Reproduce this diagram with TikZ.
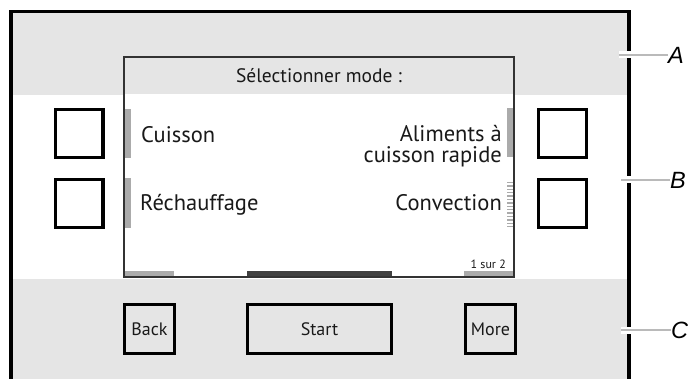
\documentclass[tikz,border=0pt]{standalone}
\usepackage{fontspec}
\setmainfont{PT Sans}
\newfontfamily\calloutfont{Liberation Sans}
\tikzset{
  band/.style={fill=black!10, draw=none},
  softkey/.style={draw=black, line width=3.3pt, inner sep=0pt},
  indicator/.style={fill=black!33, draw=none},
  leader/.style={line width=2pt, color=black!27},
  halo/.style={line width=7pt, color=white},
  screentext/.style={inner sep=0pt, text=black!90, font=\fontsize{22.5}{20.7}\selectfont},
  keytext/.style={text=black!90, font=\fontsize{18}{18}\selectfont},
  callout/.style={inner sep=0pt, font=\calloutfont\itshape\fontsize{23.5}{23.5}\selectfont},
}

\begin{document}
\begin{tikzpicture}[x=1pt, y=-1pt]
			%%%%% START %%%%%
			\useasboundingbox (0, 0) rectangle (688, 379);
			
			\draw[band] (11, 11) rectangle (629, 95);
			\draw[band] (11, 279) rectangle (629, 379);
			
			% screen
			\draw[fill=white, draw=none] (123, 94) rectangle (515, 278);
			\draw[indicator] (125, 271) rectangle (174, 277);
			\draw[fill=black!75, draw=none] (247, 271) rectangle (392, 277);
			\draw[indicator] (464, 271) rectangle (513, 277);
			\draw[indicator] (125, 109) rectangle (131, 158);
			\draw[indicator] (125, 178) rectangle (131, 228);
			\draw[indicator] (507, 108) rectangle (513, 157);
			\foreach \k in {0,...,13}
				\draw[line width=1.5pt, color=black!33] (507, {182.5+\k*3.4}) -- (513, {182.5+\k*3.4});
			\draw[line width=2pt, color=black!80] (124, 57) rectangle (514, 277);
			
			\node[screentext, anchor=base, font=\fontsize{19.5}{19.5}\selectfont] (title) at (319, 83) {Sélectionner mode :};
			\node[screentext, anchor=base west] (cuisson) at (141, 143) {Cuisson};
			\node[screentext, anchor=base west] (rechauffage) at (140, 211) {Réchauffage};
			\node[screentext, anchor=base east, align=right] (aliments) at (502, 162.7) {Aliments à\\cuisson rapide};
			\node[screentext, anchor=base east] (convection) at (502, 211) {Convection};
			\node[screentext, anchor=base east, font=\fontsize{12}{12}\selectfont] (page) at (506, 269) {1 sur 2};
			
			% side keys
			\node[softkey, minimum size=47.7pt] (keyL1) at (79, 133.5) {};
			\node[softkey, minimum size=47.7pt] (keyL2) at (79, 203.5) {};
			\node[softkey, minimum size=47.7pt] (keyR1) at (562.5, 133.5) {};
			\node[softkey, minimum size=47.7pt] (keyR2) at (562.5, 203.5) {};
			
			% bottom keys
			\node[softkey, keytext, minimum width=49.7pt, minimum height=48.7pt] (back) at (149.5, 329) {Back};
			\node[softkey, keytext, minimum width=143.7pt, minimum height=48.7pt] (start) at (319.5, 329) {Start};
			\node[softkey, keytext, minimum width=49.7pt, minimum height=48.7pt] (more) at (490.5, 329) {More};
			
			% frame
			\draw[line width=3.5pt] (11, 379) -- (11, 11.5) -- (629, 11.5) -- (629, 379);
			
			% callouts
			\coordinate (tipA) at (619, 55);
			\coordinate (tipB) at (621, 180);
			\coordinate (tipC) at (621, 330);
			\node[callout, anchor=west] (labA) at (668, 55) {A};
			\node[callout, anchor=west] (labB) at (670, 180) {B};
			\node[callout, anchor=west] (labC) at (671, 330) {C};
			\draw[halo] (tipA) -- ++(13, 0);
			\draw[halo] (tipB) -- ++(12, 0);
			\draw[halo] (tipC) -- ++(12, 0);
			\draw[leader] (tipA) -- (labA.west);
			\draw[leader] (tipB) -- (labB.west);
			\draw[leader] (tipC) -- (labC.west);
			
			%%%%% END %%%%%
\end{tikzpicture}
\end{document}
